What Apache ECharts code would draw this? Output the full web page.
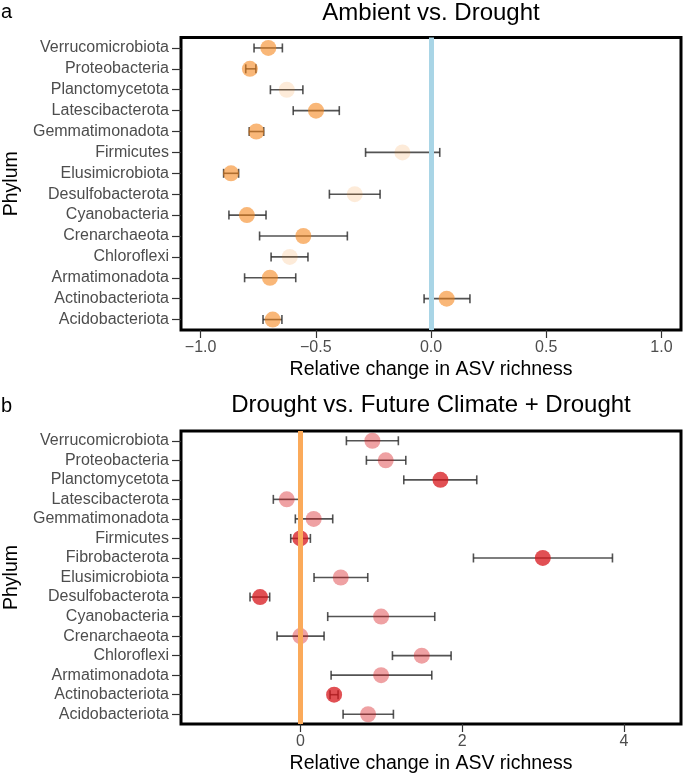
<!DOCTYPE html>
<html><head><meta charset="utf-8">
<script src="https://cdn.jsdelivr.net/npm/echarts@6/dist/echarts.min.js"></script>
<style>html,body{margin:0;padding:0;background:#fff}#c{width:685px;height:778px}</style>
</head><body><div id="c"></div>
<script>
// Panel a: Ambient vs. Drought (bottom-to-top order)
const catsA = ['Acidobacteriota','Actinobacteriota','Armatimonadota','Chloroflexi','Crenarchaeota','Cyanobacteria','Desulfobacterota','Elusimicrobiota','Firmicutes','Gemmatimonadota','Latescibacterota','Planctomycetota','Proteobacteria','Verrucomicrobiota'];
const meanA = [-0.687, 0.068, -0.699, -0.613, -0.554, -0.799, -0.331, -0.868, -0.124, -0.758, -0.499, -0.626, -0.786, -0.706];
const lowA  = [-0.729, -0.030, -0.809, -0.694, -0.744, -0.877, -0.441, -0.900, -0.284, -0.789, -0.598, -0.697, -0.804, -0.768];
const highA = [-0.647, 0.169, -0.587, -0.534, -0.363, -0.716, -0.221, -0.835, 0.038, -0.726, -0.398, -0.556, -0.760, -0.645];
const sigA  = [1,1,1,0,1,1,0,1,0,1,1,0,1,1];
const ticksA = [-1, -0.5, 0, 0.5, 1];

// Panel b: Drought vs. Future Climate + Drought
const catsB = ['Acidobacteriota','Actinobacteriota','Armatimonadota','Chloroflexi','Crenarchaeota','Cyanobacteria','Desulfobacterota','Elusimicrobiota','Fibrobacterota','Firmicutes','Gemmatimonadota','Latescibacterota','Planctomycetota','Proteobacteria','Verrucomicrobiota'];
const meanB = [0.837, 0.417, 0.998, 1.500, 0.000, 0.998, -0.498, 0.499, 2.996, 0.000, 0.165, -0.168, 1.731, 1.055, 0.890];
const lowB  = [0.528, 0.367, 0.380, 1.138, -0.288, 0.338, -0.622, 0.169, 2.139, -0.119, -0.062, -0.334, 1.278, 0.816, 0.569];
const highB = [1.150, 0.466, 1.624, 1.863, 0.293, 1.661, -0.379, 0.833, 3.857, 0.124, 0.400, 0.009, 2.180, 1.303, 1.211];
const sigB  = [0,1,0,0,0,0,1,0,1,1,0,0,1,0,0];
const ticksB = [0, 2, 4];

const FONT = 'Liberation Sans, Arial, Helvetica, sans-serif';
const chart = echarts.init(document.getElementById('c'), null, {renderer:'canvas'});

function errRender(params, api){
  const y = api.value(0);
  const a = api.coord([api.value(1), y]);
  const b = api.coord([api.value(2), y]);
  const h = 4.5;
  const st = {stroke:'rgba(45,45,45,0.82)', lineWidth:1.6, fill:null};
  return {type:'group', children:[
    {type:'line', shape:{x1:a[0], y1:a[1], x2:b[0], y2:b[1]}, style:st},
    {type:'line', shape:{x1:a[0], y1:a[1]-h, x2:a[0], y2:a[1]+h}, style:st},
    {type:'line', shape:{x1:b[0], y1:b[1]-h, x2:b[0], y2:b[1]+h}, style:st}
  ]};
}
function xAxisCfg(idx, min, max, ticks, fmt){
  return {type:'value', gridIndex:idx, min:min, max:max,
    name:'Relative change in ASV richness', nameLocation:'middle', nameGap:30,
    nameTextStyle:{fontFamily:FONT, fontSize:19.5, color:'#000'},
    axisLine:{show:false, onZero:false}, splitLine:{show:false},
    axisTick:{show:true, length:8, lineStyle:{color:'#333', width:1.2}, customValues:ticks},
    axisLabel:{fontFamily:FONT, fontSize:16, color:'#4D4D4D', margin:10, customValues:ticks, formatter:fmt}};
}
function yAxisCfg(idx, cats){
  return {type:'category', gridIndex:idx, data:cats,
    name:'Phylum', nameLocation:'middle', nameGap:152, nameRotate:90,
    nameTextStyle:{fontFamily:FONT, fontSize:19.5, color:'#000'},
    axisLine:{show:false, onZero:false}, splitLine:{show:false},
    axisTick:{show:true, alignWithLabel:true, interval:0, length:9, lineStyle:{color:'#333', width:1.2}},
    axisLabel:{fontFamily:FONT, fontSize:16, color:'#4D4D4D', margin:12, interval:0, hideOverlap:false}};
}
const fmtA = v => (v < 0 ? '\u2212' : '') + Math.abs(v).toFixed(1);
const fmtB = v => String(v);

chart.setOption({
  animation:false,
  graphic:[
    {type:'text', x:1, y:12.5, style:{text:'a', font:'20px '+FONT, fill:'#000', align:'left', verticalAlign:'middle'}},
    {type:'text', x:431, y:13.5, style:{text:'Ambient vs. Drought', font:'24px '+FONT, fill:'#000', align:'center', verticalAlign:'middle'}},
    {type:'text', x:1, y:406.5, style:{text:'b', font:'20px '+FONT, fill:'#000', align:'left', verticalAlign:'middle'}},
    {type:'text', x:431, y:405.5, style:{text:'Drought vs. Future Climate + Drought', font:'24px '+FONT, fill:'#000', align:'center', verticalAlign:'middle'}}
  ],
  grid:[
    {left:181, top:37.5, width:500, height:292.5, show:true, borderColor:'#000', borderWidth:3, backgroundColor:'#fff', containLabel:false, outerBoundsMode:'none'},
    {left:181, top:431, width:500, height:293, show:true, borderColor:'#000', borderWidth:3, backgroundColor:'#fff', containLabel:false, outerBoundsMode:'none'}
  ],
  xAxis:[ xAxisCfg(0, -1.085, 1.085, ticksA, fmtA), xAxisCfg(1, -1.475, 4.704, ticksB, fmtB) ],
  yAxis:[ yAxisCfg(0, catsA), yAxisCfg(1, catsB) ],
  series:[
    {type:'custom', xAxisIndex:0, yAxisIndex:0, z:1, data:[], renderItem:()=>null,
      markLine:{silent:true, symbol:'none', label:{show:false}, animation:false,
        lineStyle:{color:'#A9D5E6', width:5, type:'solid'}, data:[{xAxis:0}]}},
    {type:'custom', xAxisIndex:0, yAxisIndex:0, z:2, renderItem:errRender,
      encode:{y:0, x:[1,2]},
      data: catsA.map((c,i)=>[i, lowA[i], highA[i]])},
    {type:'scatter', xAxisIndex:0, yAxisIndex:0, z:3, symbolSize:16,
      data: catsA.map((c,i)=>({value:[meanA[i], i],
        itemStyle:{color: sigA[i] ? 'rgba(245,130,20,0.72)' : 'rgba(245,130,20,0.2)'}}))},
    {type:'custom', xAxisIndex:1, yAxisIndex:1, z:1, data:[], renderItem:()=>null,
      markLine:{silent:true, symbol:'none', label:{show:false}, animation:false,
        lineStyle:{color:'#FBAA5A', width:5, type:'solid'}, data:[{xAxis:0}]}},
    {type:'custom', xAxisIndex:1, yAxisIndex:1, z:2, renderItem:errRender,
      encode:{y:0, x:[1,2]},
      data: catsB.map((c,i)=>[i, lowB[i], highB[i]])},
    {type:'scatter', xAxisIndex:1, yAxisIndex:1, z:3, symbolSize:16,
      data: catsB.map((c,i)=>({value:[meanB[i], i],
        itemStyle:{color: sigB[i] ? 'rgba(215,20,25,0.93)' : 'rgba(215,20,25,0.5)'}}))}
  ]
});
</script></body></html>
